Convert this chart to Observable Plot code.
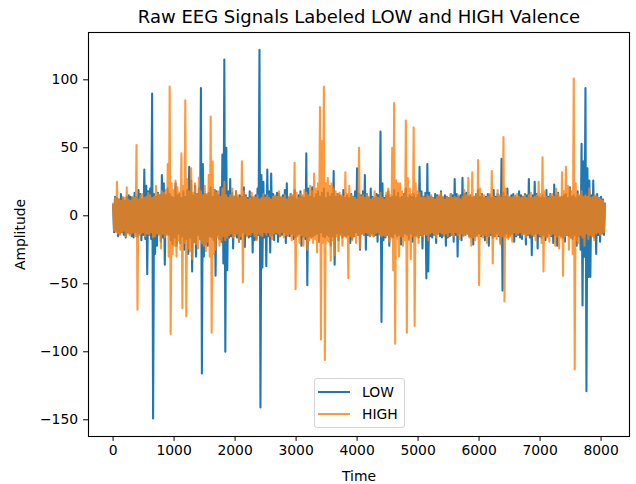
<!DOCTYPE html>
<html>
<head>
<meta charset="utf-8">
<script src="https://cdn.jsdelivr.net/npm/d3@7"></script>
<script src="https://cdn.jsdelivr.net/npm/@observablehq/plot@0.6"></script>
<style>
  body { margin: 0; background: #fff; font-family: "DejaVu Sans", sans-serif; }
  #wrap { position: relative; width: 636px; height: 484px; color: #000; }
  #wrap svg { position: absolute; left: 0; top: 0; }
  #legend { position: absolute; left: 314px; top: 378px; width: 91px; height: 50px; border: 1px solid #d4d4d4; border-radius: 3px; background: rgba(255,255,255,0.8); font-size: 13.9px; box-sizing: border-box; }
  .item { position: absolute; left: 0; height: 20px; width: 100%; }
  .swatch { position: absolute; left: 3px; width: 32px; height: 2px; top: 9px; }
  .lab { position: absolute; left: 47px; top: 1px; line-height: 18px; }
</style>
</head>
<body>
<div id="wrap"><div id="legend"></div></div>
<script>
const chartTitle = "Raw EEG Signals Labeled LOW and HIGH Valence";
const xLabel = "Time";
const yLabel = "Amplitude";
const seriesNames = ["LOW", "HIGH"];
const seriesColors = ["#1f77b4", "#ff7f0e"];
const seriesOpacity = [1, 0.8];
const sampleStep = 16;
const xTicks = [0, 1000, 2000, 3000, 4000, 5000, 6000, 7000, 8000];
const yTicks = [-150, -100, -50, 0, 50, 100];

const lowValues = [
  8,-12,14,-11,13,-15,12,-13,16,-12,13,-14,11,-16,14,-12,15,-13,14,-15,
  13,-16,17,-12,14,-15,19,-13,16,-18,12,-14,34,-17,22,-43,18,-14,20,-17,
  90,-149,16,-28,14,-22,17,-13,15,-19,30,-16,24,-36,15,-13,20,-14,16,-18,
  14,-21,13,-16,24,-22,15,-13,16,-20,13,-15,18,-25,14,-17,19,-28,36,-16,
  26,-41,15,-19,22,-30,16,-14,20,-17,94,-116,38,-30,16,-21,15,-22,17,-15,
  21,-16,14,-18,19,-44,18,-14,15,-17,21,-19,45,-35,115,-100,50,-40,18,-16,
  27,-15,17,-24,14,-13,18,-16,13,-19,15,-17,14,-12,21,-23,15,-14,13,-16,
  18,-15,14,-27,13,-18,15,-17,20,-14,122,-141,30,-38,25,-16,15,-37,34,-15,
  18,-27,31,-14,16,-18,14,-13,17,-19,16,-15,13,-14,15,-12,19,-20,24,-14,
  13,-15,16,-13,14,-17,19,-16,12,-14,15,-13,18,-22,14,-15,13,-17,46,-51,
  20,-15,14,-16,21,-15,13,-14,16,-13,18,-19,14,-12,17,-15,20,-16,13,-14,
  17,-15,14,-22,16,-15,33,-36,14,-13,16,-18,15,-13,14,-16,19,-14,13,-15,
  15,-14,13,-20,16,-17,14,-15,18,-12,35,-14,16,-25,15,-13,18,-14,30,-25,
  16,-14,13,-15,20,-13,14,-15,13,-14,16,-19,15,-13,62,-78,24,-18,13,-16,
  15,-14,18,-22,13,-15,14,-16,19,-13,14,-15,17,-14,13,-21,14,-15,16,-13,
  20,-14,13,-17,15,-13,14,-19,16,-15,13,-14,15,-16,36,-14,18,-24,14,-13,
  17,-46,38,-41,17,-15,14,-16,13,-14,16,-20,15,-13,14,-15,18,-16,13,-14,
  15,-22,14,-16,13,-15,16,-14,15,-19,27,-14,16,-30,14,-13,15,-18,28,-14,
  16,-14,17,-13,14,-15,15,-16,13,-21,14,-15,16,-14,19,-13,14,-15,16,-14,
  13,-18,14,-15,16,-22,15,-14,13,-16,19,-15,14,-13,16,-15,14,-20,42,-55,
  17,-15,14,-13,20,-16,13,-14,15,-13,16,-19,14,-15,13,-14,18,-16,15,-17,
  14,-13,16,-21,15,-14,27,-16,13,-29,15,-14,25,-13,16,-24,14,-15,13,-16,
  15,-14,13,-18,19,-15,14,-13,16,-15,14,-20,23,-14,15,-22,17,-14,13,-15,
  14,-16,15,-19,16,-14,13,-15,21,-16,14,-17,15,-14,13,-22,18,-15,14,-25,
  53,-66,40,-30,94,-129,35,-45,26,-45,15,-14,26,-16,14,-28,16,-14,13,-19,
  14,-13,12,-14,9
];

const highValues = [
  9,-11,13,-12,25,-13,12,-14,11,-12,14,-11,13,-15,21,-13,12,-14,11,-13,
  14,-12,13,-15,52,-69,12,-14,15,-13,16,-12,13,-15,14,-13,17,-14,15,-12,
  13,-16,14,-15,22,-13,16,-14,15,-24,18,-13,17,-16,19,-14,38,-30,95,-87,
  24,-28,19,-22,26,-30,21,-18,17,-25,46,-68,22,-20,85,-74,27,-24,18,-26,
  35,-32,17,-19,24,-21,16,-24,28,-17,18,-20,15,-22,22,-26,16,-19,30,-30,
  73,-86,40,-28,19,-25,17,-16,18,-22,14,-19,20,-15,25,-18,15,-16,13,-14,
  15,-13,20,-16,14,-15,18,-13,15,-19,13,-15,40,-49,18,-13,14,-15,12,-14,
  13,-14,17,-12,14,-15,13,-18,15,-13,12,-14,13,-15,16,-12,13,-14,15,-12,
  13,-15,12,-17,14,-13,15,-12,14,-13,18,-15,14,-12,13,-16,15,-14,12,-15,
  14,-13,16,-18,15,-14,39,-54,17,-15,13,-20,16,-14,15,-22,19,-15,17,-25,
  15,-18,22,-16,18,-20,31,-17,20,-27,24,-19,80,-91,55,-20,95,-106,24,-18,
  28,-19,22,-33,24,-18,20,-29,18,-15,16,-26,17,-14,15,-22,14,-15,32,-16,
  16,-46,22,-15,15,-18,14,-15,13,-20,12,-14,50,-24,14,-13,15,-14,13,-12,
  16,-13,14,-15,12,-14,13,-15,18,-13,14,-12,13,-14,17,-15,13,-14,12,-15,
  17,-14,20,-19,15,-16,50,-40,83,-94,26,-17,24,-30,24,-15,18,-22,16,-18,
  70,-86,28,-18,20,-32,16,-15,65,-81,24,-15,18,-20,17,-14,13,-15,14,-13,
  13,-14,15,-18,14,-13,15,-12,13,-14,12,-16,14,-13,15,-12,17,-13,14,-15,
  12,-13,14,-15,13,-12,16,-14,13,-15,14,-12,13,-14,15,-17,12,-13,14,-15,
  19,-14,15,-13,28,-16,15,-22,32,-16,14,-18,16,-15,41,-51,20,-14,15,-16,
  15,-14,13,-20,14,-15,16,-13,33,-35,14,-15,13,-17,19,-14,15,-21,13,-15,
  58,-63,20,-16,15,-17,14,-15,13,-19,14,-12,15,-14,16,-13,14,-12,13,-14,
  14,-13,15,-16,13,-14,15,-13,17,-14,13,-15,14,-18,15,-13,25,-14,16,-20,
  43,-41,18,-15,14,-16,13,-19,15,-14,16,-13,14,-22,20,-15,16,-24,14,-16,
  32,-44,18,-15,36,-14,22,-25,20,-16,18,-28,101,-113,24,-18,16,-20,15,-14,
  18,-16,14,-22,15,-13,14,-17,20,-14,13,-15,14,-18,15,-13,14,-12,13,-14,
  12,-13,11,-12,9
];

const toRows = (vals, name) => vals.map((v, i) => ({ t: i * sampleStep, v, s: name }));
const lowRows = toRows(lowValues, seriesNames[0]);
const highRows = toRows(highValues, seriesNames[1]);

const chart = Plot.plot({
  width: 636,
  height: 484,
  marginTop: 32,
  marginBottom: 48,
  marginLeft: 88,
  marginRight: 7,
  style: { fontFamily: "'DejaVu Sans'", fontSize: "13.9px", color: "#000", background: "transparent" },
  x: { domain: [-403, 8466] },
  y: { domain: [-162.3, 134.8] },
  marks: [
    Plot.lineY(lowRows, { x: "t", y: "v", stroke: seriesColors[0], strokeOpacity: seriesOpacity[0], strokeWidth: 2.08 }),
    Plot.lineY(highRows, { x: "t", y: "v", stroke: seriesColors[1], strokeOpacity: seriesOpacity[1], strokeWidth: 2.08 }),
    Plot.frame({ stroke: "#000", strokeWidth: 1.1 }),
    Plot.axisX({ ticks: xTicks, tickFormat: d3.format("d"), tickSize: 4.9, tickPadding: 4, fontSize: 13.9, label: xLabel, labelAnchor: "center", labelArrow: "none", labelOffset: 44 }),
    Plot.axisY({ ticks: yTicks, tickFormat: d3.format("d"), tickSize: 4.9, tickPadding: 5.5, fontSize: 13.9, label: yLabel, labelAnchor: "center", labelArrow: "none", labelOffset: 73 }),
    Plot.text([chartTitle], { text: d => d, frameAnchor: "top", dy: -22, fontSize: 18 })
  ]
});
const wrap = document.getElementById("wrap");
wrap.insertBefore(chart, wrap.firstChild);

const legend = document.getElementById("legend");
seriesNames.forEach((name, i) => {
  const item = document.createElement("div");
  item.className = "item";
  item.style.top = (3 + i * 22) + "px";
  const sw = document.createElement("div");
  sw.className = "swatch";
  sw.style.background = seriesColors[i];
  sw.style.opacity = seriesOpacity[i];
  const lab = document.createElement("div");
  lab.className = "lab";
  lab.textContent = name;
  item.appendChild(sw);
  item.appendChild(lab);
  legend.appendChild(item);
});
</script>
</body>
</html>
